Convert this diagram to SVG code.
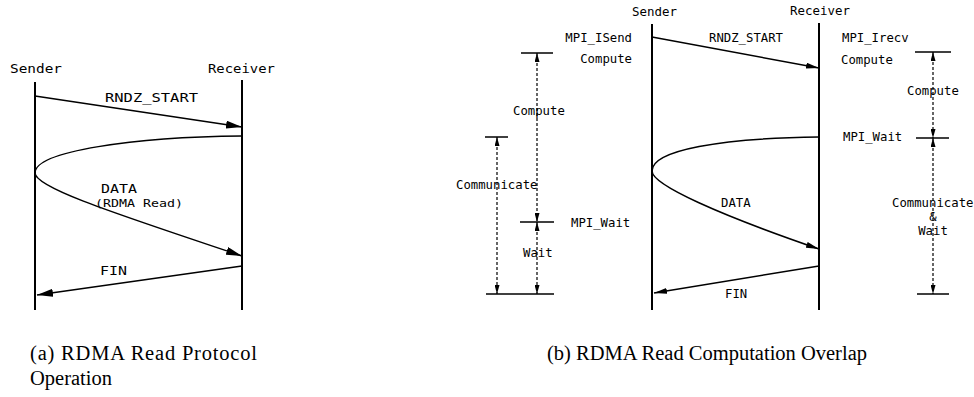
<svg xmlns="http://www.w3.org/2000/svg" width="974" height="397" viewBox="0 0 974 397">
<style>
.bg{fill:#fff}
.life{stroke:#000;stroke-width:2;fill:none}
.msg{stroke:#000;stroke-width:1.5;fill:none}
.tick{stroke:#000;stroke-width:1.5}
.dash{stroke:#000;stroke-width:1.2;stroke-dasharray:3,2;fill:none}
.t{font-family:"DejaVu Sans Mono",monospace;fill:#000}
.tl{font-size:11.5px}
.tr{font-size:12.3px}
.cap{font-family:"Liberation Serif",serif;font-size:20.5px;fill:#000}
</style>
<defs>
<marker id="ahL" viewBox="0 0 16 8" refX="16" refY="4" markerWidth="16" markerHeight="8" markerUnits="userSpaceOnUse" orient="auto"><path d="M0,0 L16,4 L0,8 z" fill="#000"/></marker>
<marker id="ahR" viewBox="0 0 13 6" refX="13" refY="3" markerWidth="13" markerHeight="6" markerUnits="userSpaceOnUse" orient="auto"><path d="M0,0 L13,3 L0,6 z" fill="#000"/></marker>
<marker id="ahS" viewBox="0 0 9 5" refX="9" refY="2.5" markerWidth="9" markerHeight="5" markerUnits="userSpaceOnUse" orient="auto-start-reverse"><path d="M0,0 L9,2.5 L0,5 z" fill="#000"/></marker>
</defs>
<rect class="bg" width="974" height="397"/>

<!-- Left diagram (a) -->
<g id="a-sender">
<line class="life" x1="35" y1="82" x2="35" y2="310"/>
<text class="t tl" x="10" y="73" textLength="52" lengthAdjust="spacingAndGlyphs">Sender</text>
</g>
<g id="a-receiver">
<line class="life" x1="242" y1="80" x2="242" y2="310"/>
<text class="t tl" x="208" y="73" textLength="67" lengthAdjust="spacingAndGlyphs">Receiver</text>
</g>
<g id="a-connectors">
<line class="msg" x1="35" y1="96" x2="242" y2="127" marker-end="url(#ahL)"/>
<path class="msg" d="M242,136 C135,137 35,151 35,173 C35,188 120,215 242,256" marker-end="url(#ahL)"/>
<line class="msg" x1="242" y1="266" x2="37" y2="295" marker-end="url(#ahL)"/>
</g>
<g id="a-labels">
<text class="t tl" x="105" y="102" textLength="93" lengthAdjust="spacingAndGlyphs">RNDZ_START</text>
<text class="t tl" x="101" y="193" textLength="36" lengthAdjust="spacingAndGlyphs">DATA</text>
<text class="t" style="font-size:11px" x="95" y="207" textLength="88" lengthAdjust="spacingAndGlyphs">(RDMA Read)</text>
<text class="t tl" x="100" y="275" textLength="27" lengthAdjust="spacingAndGlyphs">FIN</text>
</g>

<!-- Right diagram (b) -->
<g id="b-sender">
<line class="life" x1="652" y1="24" x2="652" y2="310"/>
<text class="t tr" x="632" y="16" textLength="45" lengthAdjust="spacingAndGlyphs">Sender</text>
<text class="t tr" x="632" y="42" text-anchor="end">MPI_ISend</text>
<text class="t tr" x="632" y="63" text-anchor="end">Compute</text>
</g>
<g id="b-receiver">
<line class="life" x1="819" y1="23" x2="819" y2="310"/>
<text class="t tr" x="790" y="15" textLength="60" lengthAdjust="spacingAndGlyphs">Receiver</text>
<text class="t tr" x="842" y="42">MPI_Irecv</text>
<text class="t tr" x="841" y="64">Compute</text>
<text class="t tr" x="843" y="141">MPI_Wait</text>
</g>
<g id="b-connectors">
<line class="msg" x1="652" y1="37" x2="819" y2="68" marker-end="url(#ahR)"/>
<path class="msg" d="M819,137 C722,138 652,150 652,171 C652,185 720,215 819,249" marker-end="url(#ahR)"/>
<line class="msg" x1="819" y1="266" x2="654" y2="293" marker-end="url(#ahR)"/>
</g>
<g id="b-labels">
<text class="t tr" x="709" y="42" textLength="74" lengthAdjust="spacingAndGlyphs">RNDZ_START</text>
<text class="t tr" x="721" y="207">DATA</text>
<text class="t tr" x="725" y="298">FIN</text>
</g>

<g id="b-sender-timeline">
<line class="tick" x1="521" y1="53" x2="553" y2="53"/>
<line class="tick" x1="520" y1="222" x2="554" y2="222"/>
<line class="tick" x1="486" y1="294" x2="554" y2="294"/>
<line class="tick" x1="485" y1="137" x2="508" y2="137"/>
<line class="dash" x1="537" y1="53" x2="537" y2="222" marker-start="url(#ahS)" marker-end="url(#ahS)"/>
<line class="dash" x1="537" y1="222" x2="537" y2="294" marker-start="url(#ahS)" marker-end="url(#ahS)"/>
<line class="dash" x1="497" y1="137" x2="497" y2="294" marker-start="url(#ahS)" marker-end="url(#ahS)"/>
<text class="t tr" x="513" y="115">Compute</text>
<text class="t tr" x="456" y="189">Communicate</text>
<text class="t tr" x="571" y="227">MPI_Wait</text>
<text class="t tr" x="523" y="257">Wait</text>
</g>
<g id="b-receiver-timeline">
<line class="tick" x1="915" y1="52" x2="951" y2="52"/>
<line class="tick" x1="916" y1="138" x2="949" y2="138"/>
<line class="tick" x1="917" y1="294" x2="949" y2="294"/>
<line class="dash" x1="933" y1="52" x2="933" y2="138" marker-start="url(#ahS)" marker-end="url(#ahS)"/>
<line class="dash" x1="933" y1="138" x2="933" y2="294" marker-start="url(#ahS)" marker-end="url(#ahS)"/>
<text class="t tr" x="907" y="95">Compute</text>
<text class="t tr" x="892" y="207">Communicate</text>
<text class="t tr" x="933" y="221" text-anchor="middle">&amp;</text>
<text class="t tr" x="933" y="235" text-anchor="middle">Wait</text>
</g>

<g id="captions">
<text class="cap" x="30" y="360" textLength="227" lengthAdjust="spacing">(a) RDMA Read Protocol</text>
<text class="cap" x="30" y="385">Operation</text>
<text class="cap" x="547" y="360">(b) RDMA Read Computation Overlap</text>
</g>
</svg>
